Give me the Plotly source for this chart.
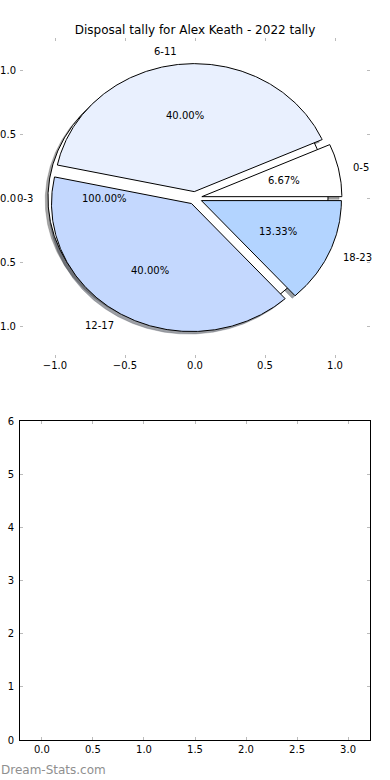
import math
import plotly.graph_objects as go

# ---- data ----
title_text = "Disposal tally for Alex Keath - 2022 tally"
pie_a_labels = ["0-3"]
pie_a_values = [1]
pie_a_colors = ["#ffffff"]

pie_b_labels = ["0-5", "6-11", "12-17", "18-23"]
pie_b_values = [1, 6, 6, 2]
pie_b_colors = ["#ffffff", "#e9f0fe", "#c4d8fe", "#b3d4ff"]

top_ticks = [-1.0, -0.5, 0.0, 0.5, 1.0]
bottom_xticks = [0.0, 0.5, 1.0, 1.5, 2.0, 2.5, 3.0]
bottom_yticks = [0, 1, 2, 3, 4, 5, 6]

EXPLODE = 0.05
SHADOW = -0.02
W, H = 390, 780
FONT = "DejaVu Sans"


def fmt(v):
    s = "%.1f" % v
    return s.replace("-", "\u2212")


def wedges(labels, values, colors):
    total = float(sum(values))
    out = []
    t = 0.0
    for lab, v, c in zip(labels, values, colors):
        frac = v / total
        t1 = t
        t2 = t + 360.0 * frac
        mid = math.radians((t1 + t2) / 2)
        cx = EXPLODE * math.cos(mid)
        cy = EXPLODE * math.sin(mid)
        n = max(int(abs(t2 - t1) * 2), 4)
        xs, ys = [], []
        full = abs(t2 - t1) >= 359.999
        if not full:
            xs.append(cx)
            ys.append(cy)
        for i in range(n + 1):
            a = math.radians(t1 + (t2 - t1) * i / n)
            xs.append(cx + math.cos(a))
            ys.append(cy + math.sin(a))
        if not full:
            xs.append(cx)
            ys.append(cy)
        out.append(dict(label=lab, frac=frac, color=c, xs=xs, ys=ys,
                        cx=cx, cy=cy, mid=mid))
        t = t2
    return out


def shade(hexc):
    h = hexc.lstrip("#")
    r, g, b = (int(h[i:i + 2], 16) for i in (0, 2, 4))
    return "rgba(%d,%d,%d,0.5)" % (r * 0.3, g * 0.3, b * 0.3)


wa = wedges(pie_a_labels, pie_a_values, pie_a_colors)
wb = wedges(pie_b_labels, pie_b_values, pie_b_colors)
allw = wa + wb

fig = go.Figure()

# shadows first
for w in allw:
    fig.add_trace(go.Scatter(
        x=[x + SHADOW for x in w["xs"]], y=[y + SHADOW for y in w["ys"]],
        mode="lines", fill="toself", fillcolor=shade(w["color"]),
        line=dict(color=shade(w["color"]), width=0.5),
        hoverinfo="skip", showlegend=False, xaxis="x", yaxis="y"))

for w in allw:
    fig.add_trace(go.Scatter(
        x=w["xs"], y=w["ys"], mode="lines", fill="toself",
        fillcolor=w["color"], line=dict(color="black", width=1),
        hoverinfo="skip", showlegend=False, xaxis="x", yaxis="y"))

annotations = []
for w in allw:
    lx = w["cx"] + 1.1 * math.cos(w["mid"])
    ly = w["cy"] + 1.1 * math.sin(w["mid"])
    annotations.append(dict(
        x=lx, y=ly, xref="x", yref="y", text=w["label"], showarrow=False,
        xanchor="left" if lx > 0 else "right", yanchor="middle",
        font=dict(family=FONT, size=10, color="black"), borderpad=0))
    px = w["cx"] + 0.6 * math.cos(w["mid"])
    py = w["cy"] + 0.6 * math.sin(w["mid"])
    annotations.append(dict(
        x=px, y=py, xref="x", yref="y", text="%.2f%%" % (w["frac"] * 100),
        showarrow=False, xanchor="center", yanchor="middle",
        font=dict(family=FONT, size=10, color="black"), borderpad=0))

annotations.append(dict(
    x=0, y=1 - 770 / H, xref="paper", yref="paper", text="Dream-Stats.com",
    showarrow=False, xanchor="left", yanchor="middle",
    font=dict(family=FONT, size=12, color="#8f8f8f"), borderpad=0))

xdom = [20 / W, 370 / W]
tick_font = dict(family=FONT, size=10, color="black")

fig.update_layout(
    width=W, height=H,
    margin=dict(l=0, r=0, t=0, b=0),
    paper_bgcolor="white", plot_bgcolor="white",
    showlegend=False,
    title=dict(text=title_text, x=0.5, xanchor="center",
               y=1 - 30 / H, yanchor="middle",
               font=dict(family=FONT, size=12, color="black")),
    annotations=annotations,
    xaxis=dict(domain=xdom, range=[-1.25, 1.25], anchor="y",
               tickvals=top_ticks, ticktext=[fmt(v) for v in top_ticks],
               showgrid=False, zeroline=False, showline=False,
               ticks="inside", ticklen=3, tickcolor="#bbbbbb", tickwidth=1,
               mirror="ticks", tickfont=tick_font, automargin=False,
               fixedrange=True),
    yaxis=dict(domain=[1 - 358 / H, 1 - 38 / H], range=[-1.25, 1.25],
               anchor="x",
               tickvals=top_ticks, ticktext=[fmt(v) for v in top_ticks],
               showgrid=False, zeroline=False, showline=False,
               ticks="inside", ticklen=3, tickcolor="#bbbbbb", tickwidth=1,
               mirror="ticks", tickfont=tick_font, automargin=False,
               ticklabelstandoff=3, fixedrange=True),
    xaxis2=dict(domain=xdom, range=[-0.215, 3.215], anchor="y2",
                tickvals=bottom_xticks, ticktext=[fmt(v) for v in bottom_xticks],
                showgrid=False, zeroline=False, showline=True,
                linecolor="black", linewidth=1,
                ticks="inside", ticklen=3, tickcolor="#bbbbbb", tickwidth=1,
                mirror="ticks", tickfont=tick_font, automargin=False,
                fixedrange=True),
    yaxis2=dict(domain=[1 - 740 / H, 1 - 421 / H], range=[0, 6], anchor="x2",
                tickvals=bottom_yticks, ticktext=[str(v) for v in bottom_yticks],
                showgrid=False, zeroline=False, showline=True,
                linecolor="black", linewidth=1,
                ticks="inside", ticklen=3, tickcolor="#bbbbbb", tickwidth=1,
                mirror="ticks", tickfont=tick_font, automargin=False,
                ticklabelstandoff=3, fixedrange=True),
)

# invisible trace to activate the bottom axes
fig.add_trace(go.Scatter(x=[None], y=[None], xaxis="x2", yaxis="y2",
                         mode="markers", showlegend=False, hoverinfo="skip"))

fig.write_html("out.html", config={"displayModeBar": False},
               post_script="document.body.style.margin='0';"
                           "document.body.style.overflow='hidden';")
